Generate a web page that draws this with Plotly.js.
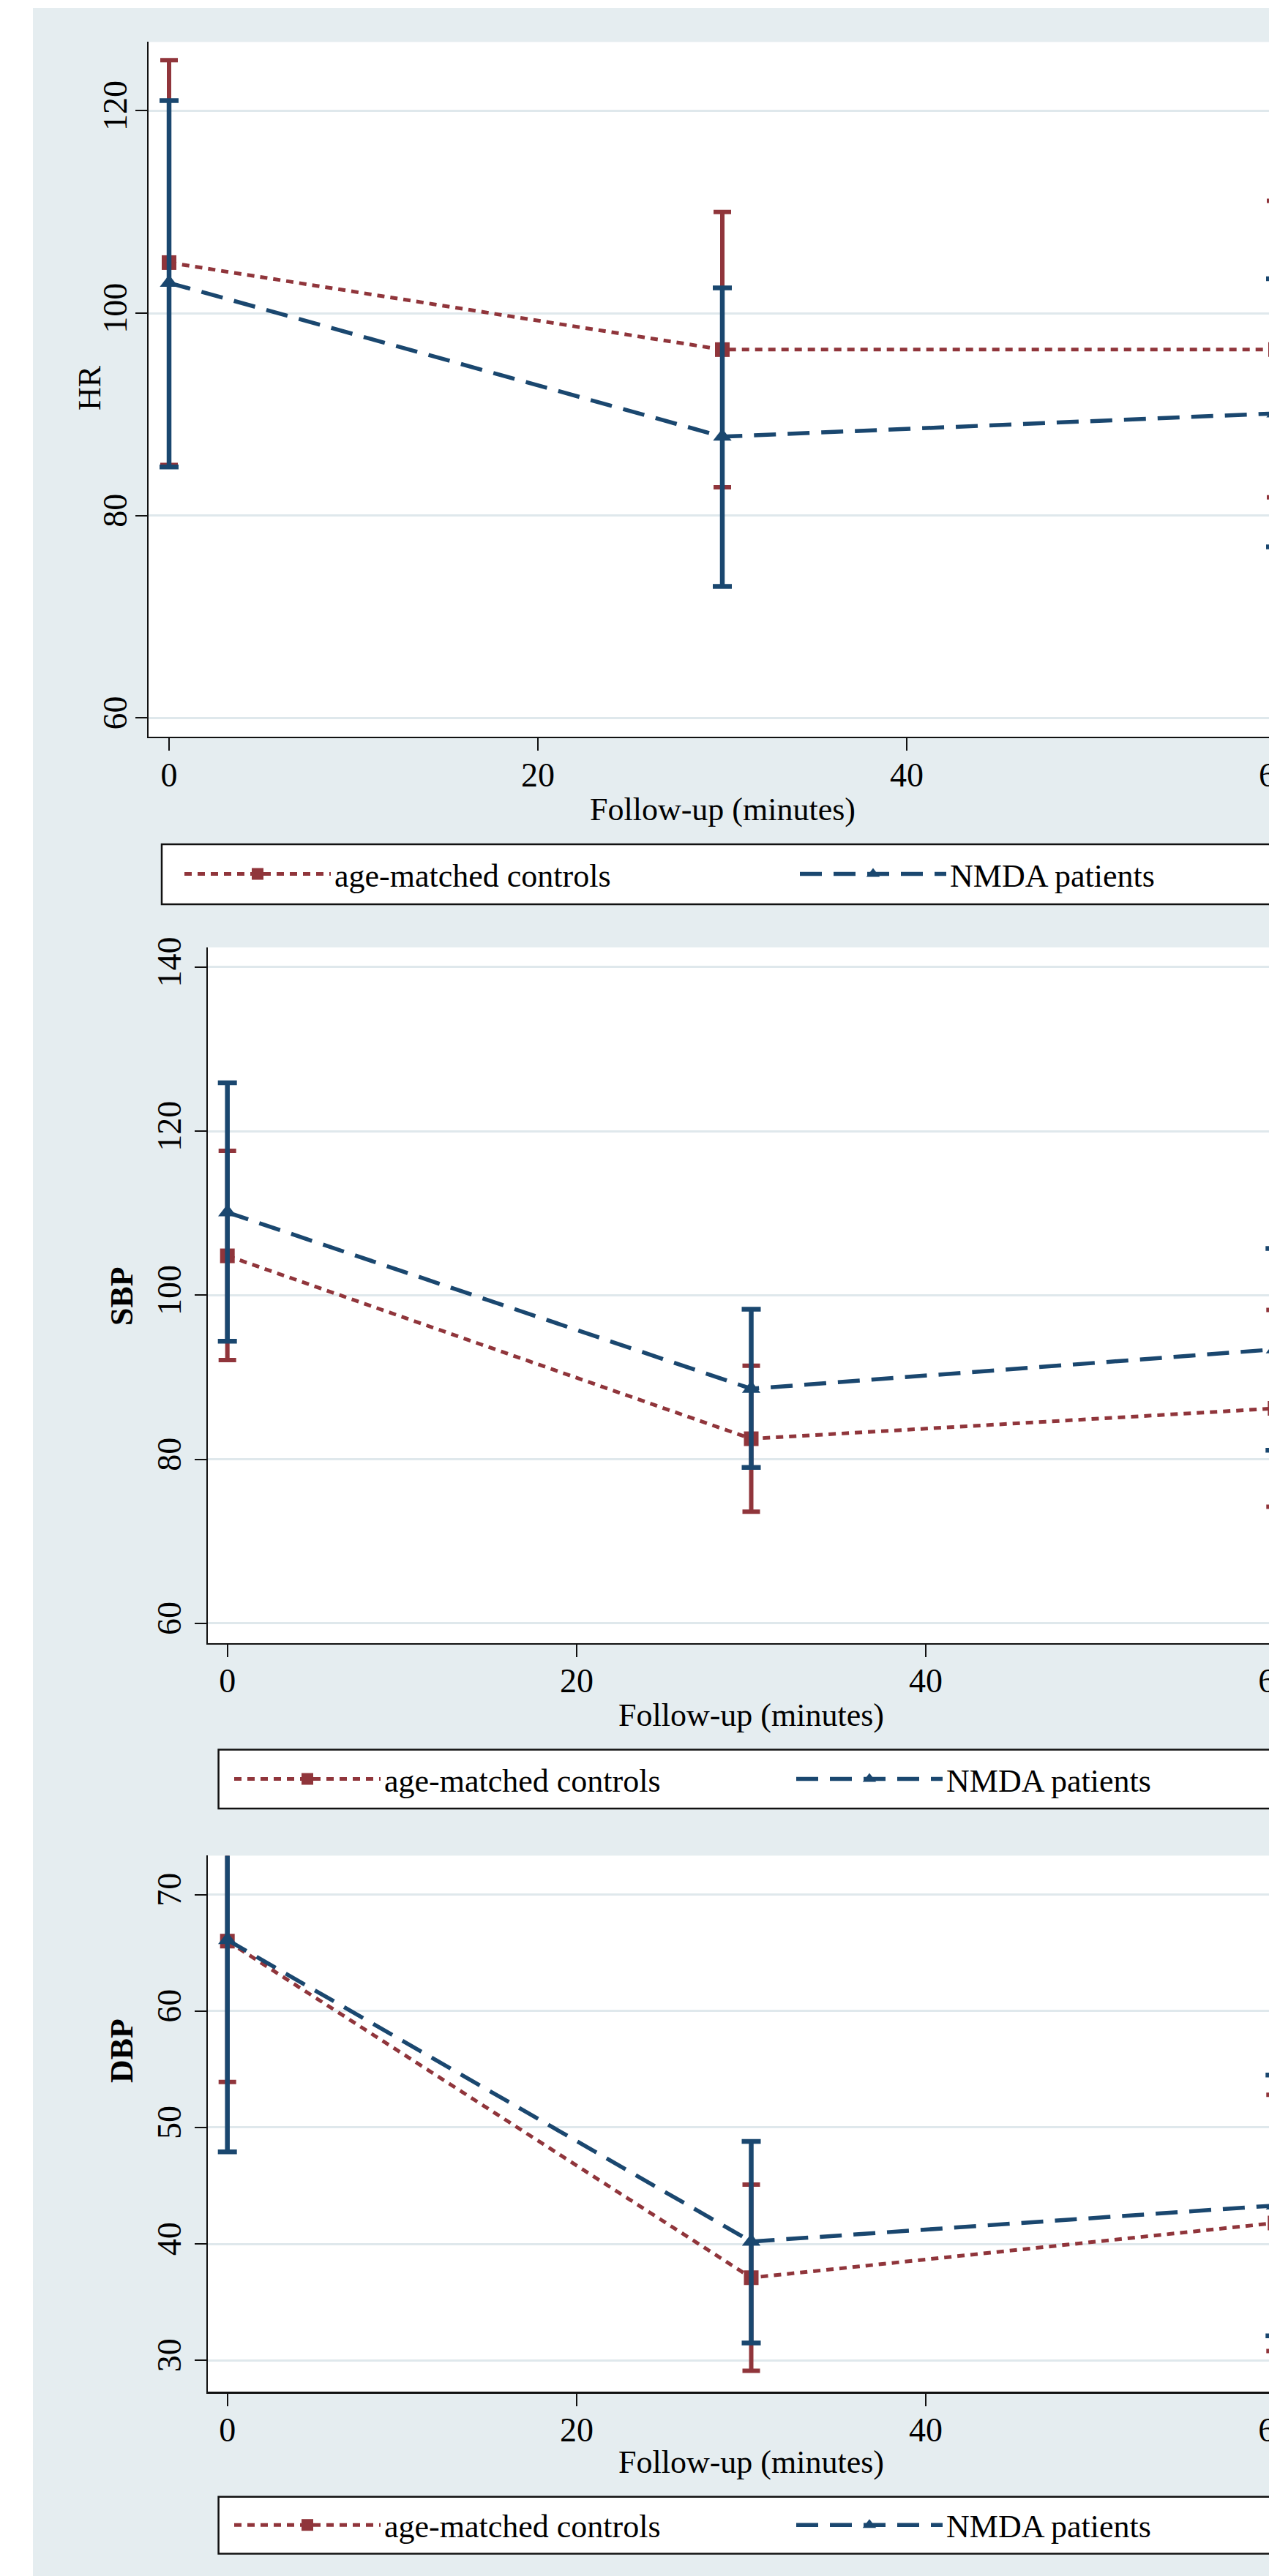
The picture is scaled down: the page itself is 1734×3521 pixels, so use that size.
<!DOCTYPE html>
<html>
<head>
<meta charset="utf-8">
<script src="https://cdn.plot.ly/plotly-3.0.1.min.js"></script>
<style>
  html, body { margin: 0; padding: 0; overflow: hidden; background: #ffffff; }
  #chart { width: 2100px; height: 3521px; }
</style>
</head>
<body>
<div id="chart"></div>
<script>
// ---------------- DATA ----------------
const minutes = [0, 30, 60];
const groupNames = ["age-matched controls", "NMDA patients"];
const panelTitles = ["HR", "SBP", "DBP"];
const xTitle = "Follow-up (minutes)";

// Heart rate
const hrControls     = [105.0, 96.4, 96.4];
const hrControlsLow  = [85.0, 82.8, 81.8];
const hrControlsHigh = [125.0, 110.0, 111.1];
const hrNmda         = [103.0, 87.8, 90.1];
const hrNmdaLow      = [84.8, 73.0, 76.9];
const hrNmdaHigh     = [121.0, 102.5, 103.4];

// Systolic blood pressure
const sbpControls     = [104.8, 82.5, 86.2];
const sbpControlsLow  = [92.1, 73.6, 74.2];
const sbpControlsHigh = [117.6, 91.4, 98.2];
const sbpNmda         = [110.1, 88.6, 93.4];
const sbpNmdaLow      = [94.4, 79.0, 81.1];
const sbpNmdaHigh     = [125.9, 98.3, 105.7];

// Diastolic blood pressure
const dbpControls     = [66.0, 37.1, 41.8];
const dbpControlsLow  = [53.9, 29.1, 30.8];
const dbpControlsHigh = [78.1, 45.1, 52.8];
const dbpNmda         = [66.1, 40.2, 43.3];
const dbpNmdaLow      = [47.9, 31.5, 32.1];
const dbpNmdaHigh     = [84.3, 48.8, 54.5];

const yTicks1 = [60, 80, 100, 120];
const yTicks2 = [60, 80, 100, 120, 140];
const yTicks3 = [30, 40, 50, 60, 70];
const xTicks = [0, 20, 40, 60];

// ---------------- STYLE / LAYOUT ----------------
const W = 2100, H = 3521;
const px = v => v / W;
const py = v => 1 - v / H;

const MAROON = "#90353b";
const NAVY = "#1a476f";
const BG = "#e5edf0";
const GRID = "#dfe8ec";
const FONT = "Liberation Serif, Times New Roman, serif";

const panels = [
  { ctl: [hrControls, hrControlsLow, hrControlsHigh], nm: [hrNmda, hrNmdaLow, hrNmdaHigh],
    axLeft: 203, zeroPx: 231, perUnit: 25.2, top: 57.4, bottom: 1006.9, yr: [58.15, 126.8], yt: yTicks1,
    boxLeft: 221, boxTop: 1154, boxBottom: 1236, legX: 247, entry: 626,
    xtX: 987, xtY: 1106, ytX: 122, ytY: 530, bold: false, yStand: -7 },
  { ctl: [sbpControls, sbpControlsLow, sbpControlsHigh], nm: [sbpNmda, sbpNmdaLow, sbpNmdaHigh],
    axLeft: 284, zeroPx: 310.7, perUnit: 23.86, top: 1295, bottom: 2245.7, yr: [57.6, 142.4], yt: yTicks2,
    boxLeft: 298.6, boxTop: 2391.6, boxBottom: 2472, legX: 315, entry: 553,
    xtX: 1026, xtY: 2344, ytX: 166, ytY: 1772, bold: true, yStand: 0 },
  { ctl: [dbpControls, dbpControlsLow, dbpControlsHigh], nm: [dbpNmda, dbpNmdaLow, dbpNmdaHigh],
    axLeft: 284, zeroPx: 310.7, perUnit: 23.86, top: 2536.4, bottom: 3269.4, yr: [27.29, 73.34], yt: yTicks3,
    boxLeft: 298.6, boxTop: 3412.8, boxBottom: 3490.4, legX: 315, entry: 553,
    xtX: 1026, xtY: 3365, ytX: 166, ytY: 2803, bold: true, yStand: 0 }
];

const traces = [];
const layout = {
  width: W, height: H,
  margin: { l: 0, r: 0, t: 0, b: 0, pad: 0 },
  paper_bgcolor: BG,
  plot_bgcolor: "#ffffff",
  showlegend: true,
  font: { family: FONT, color: "#000000", size: 44 },
  shapes: [
    { type: "rect", xref: "paper", yref: "paper", x0: 0, x1: px(45), y0: 0, y1: 1,
      fillcolor: "#ffffff", line: { width: 0 }, layer: "below" },
    { type: "rect", xref: "paper", yref: "paper", x0: 0, x1: 1, y0: py(11), y1: 1,
      fillcolor: "#ffffff", line: { width: 0 }, layer: "below" }
  ],
  annotations: []
};

function errs(mean, low, high) {
  return {
    type: "data", symmetric: false,
    array: high.map((h, i) => h - mean[i]),
    arrayminus: mean.map((m, i) => m - low[i])
  };
}

panels.forEach((p, k) => {
  const n = k + 1;
  const xa = "x" + (n === 1 ? "" : n), ya = "y" + (n === 1 ? "" : n);
  const xKey = "xaxis" + (n === 1 ? "" : n), yKey = "yaxis" + (n === 1 ? "" : n);
  const legKey = "legend" + (n === 1 ? "" : n);

  traces.push({
    x: minutes, y: p.ctl[0], name: groupNames[0], xaxis: xa, yaxis: ya, legend: legKey,
    type: "scatter", mode: "lines+markers", cliponaxis: true,
    line: { color: MAROON, width: 5, dash: "10px,8px" },
    marker: { symbol: "square", size: 20, color: MAROON },
    error_y: Object.assign(errs(p.ctl[0], p.ctl[1], p.ctl[2]), { color: MAROON, thickness: 6, width: 12 })
  });
  traces.push({
    x: minutes, y: p.nm[0], name: groupNames[1], xaxis: xa, yaxis: ya, legend: legKey,
    type: "scatter", mode: "lines+markers", cliponaxis: true,
    line: { color: NAVY, width: 5.5, dash: "30px,16px" },
    marker: { symbol: "triangle-up", size: 22, color: NAVY },
    error_y: Object.assign(errs(p.nm[0], p.nm[1], p.nm[2]), { color: NAVY, thickness: 6.5, width: 13 })
  });

  layout[xKey] = {
    domain: [px(p.axLeft), 1],
    range: [(p.axLeft - p.zeroPx) / p.perUnit, (W - p.zeroPx) / p.perUnit],
    anchor: ya,
    tickvals: xTicks, ticktext: xTicks.map(String),
    ticks: "outside", ticklen: 17, tickwidth: 2, tickcolor: "#111111",
    ticklabelstandoff: -7,
    showline: true, linecolor: "#111111", linewidth: 2.5,
    showgrid: false, zeroline: false,
    tickfont: { family: FONT, size: 46, color: "#000" },
    automargin: false, fixedrange: true
  };
  layout[yKey] = {
    domain: [py(p.bottom), py(p.top)],
    range: p.yr,
    anchor: xa,
    tickvals: p.yt, ticktext: p.yt.map(String),
    tickangle: -90,
    ticks: "outside", ticklen: 16, tickwidth: 2, tickcolor: "#111111",
    ticklabelstandoff: p.yStand,
    showline: true, linecolor: "#111111", linewidth: 2.5,
    showgrid: true, gridcolor: GRID, gridwidth: 3, zeroline: false,
    tickfont: { family: FONT, size: 46, color: "#000" },
    automargin: false, fixedrange: true
  };

  // axis titles
  layout.annotations.push({
    text: xTitle, xref: "paper", yref: "paper", x: px(p.xtX), y: py(p.xtY),
    xanchor: "center", yanchor: "middle", showarrow: false,
    font: { family: FONT, size: 44, color: "#000" }
  });
  layout.annotations.push({
    text: p.bold ? "<b>" + panelTitles[k] + "</b>" : panelTitles[k],
    xref: "paper", yref: "paper", x: px(p.ytX), y: py(p.ytY), textangle: -90,
    xanchor: "center", yanchor: "middle", showarrow: false,
    font: { family: FONT, size: 44, color: "#000" }
  });

  // legend frame
  layout.shapes.push({
    type: "rect", xref: "paper", yref: "paper",
    x0: px(p.boxLeft), x1: 1.01, y0: py(p.boxBottom), y1: py(p.boxTop),
    fillcolor: "#ffffff", line: { color: "#111111", width: 2.5 }, layer: "below"
  });

  layout[legKey] = {
    orientation: "h",
    x: px(p.legX), xanchor: "left",
    y: py((p.boxTop + p.boxBottom) / 2), yanchor: "middle",
    bgcolor: "rgba(0,0,0,0)", borderwidth: 0,
    font: { family: FONT, size: 44, color: "#000" },
    itemwidth: 200,
    entrywidth: p.entry, entrywidthmode: "pixels",
    traceorder: "normal",
    itemclick: false, itemdoubleclick: false
  };
});

Plotly.newPlot("chart", traces, layout, { staticPlot: true, displayModeBar: false });
</script>
</body>
</html>
